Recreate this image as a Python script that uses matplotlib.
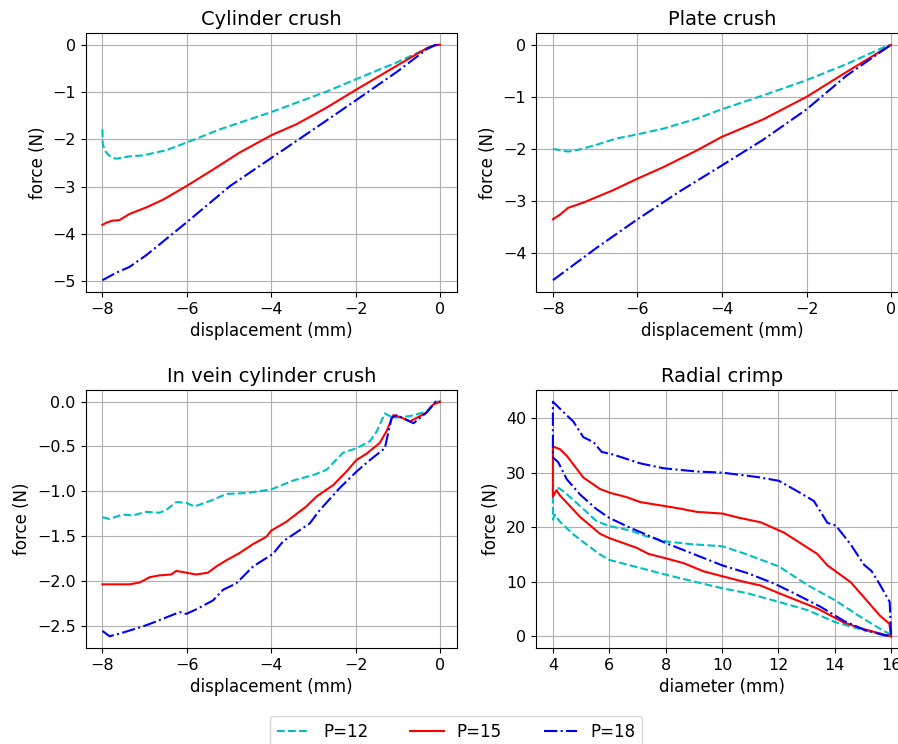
import matplotlib
matplotlib.use("Agg")
import matplotlib.pyplot as plt

# ---------------- data ----------------
labels = ["P=12", "P=15", "P=18"]
colors = ["c", "r", "b"]
styles = ["--", "-", "-."]

# Cylinder crush
cyl_x12 = [-8, -7.99, -7.91, -7.79, -7.67, -7.36, -7.04, -6.49, -6.01, -5.22, -3.99, -2.69, -1.97, -1.02, -0.15, 0]
cyl_y12 = [-1.79, -2.11, -2.28, -2.38, -2.41, -2.36, -2.34, -2.23, -2.07, -1.79, -1.42, -0.99, -0.72, -0.37, -0.01, 0]
cyl_x15 = [-8, -7.9, -7.76, -7.6, -7.36, -6.96, -6.57, -6.01, -5.38, -4.75, -3.99, -3.40, -2.69, -1.97, -1.02, -0.31, -0.12, 0]
cyl_y15 = [-3.81, -3.76, -3.72, -3.71, -3.58, -3.44, -3.28, -2.99, -2.64, -2.28, -1.91, -1.68, -1.33, -0.94, -0.44, -0.07, -0.005, 0]
cyl_x18 = [-8, -7.67, -7.36, -6.96, -6.01, -4.98, -3.99, -3.00, -1.97, -1.02, -0.31, -0.12, 0]
cyl_y18 = [-4.98, -4.82, -4.70, -4.45, -3.76, -2.99, -2.39, -1.79, -1.16, -0.57, -0.09, -0.01, 0]

# Plate crush
pl_x12 = [-8, -7.64, -7.36, -6.97, -6.50, -6.0, -5.39, -4.6, -4.01, -3.02, -2.0, -1.05, -0.18, 0]
pl_y12 = [-2.0, -2.05, -2.01, -1.92, -1.80, -1.72, -1.61, -1.42, -1.24, -0.97, -0.68, -0.37, -0.05, 0]
pl_x15 = [-8, -7.83, -7.64, -7.28, -6.57, -6.0, -5.39, -4.6, -4.01, -3.02, -2.0, -1.05, -0.34, 0]
pl_y15 = [-3.35, -3.26, -3.13, -3.03, -2.79, -2.57, -2.35, -2.03, -1.77, -1.43, -1.0, -0.52, -0.17, 0]
pl_x18 = [-8, -6.97, -6.0, -4.99, -4.01, -3.02, -2.0, -1.05, -0.34, 0]
pl_y18 = [-4.52, -3.90, -3.35, -2.81, -2.32, -1.82, -1.24, -0.59, -0.19, 0]

# In vein cylinder crush
iv_x12 = [-8, -7.83, -7.52, -7.28, -6.96, -6.65, -6.49, -6.25, -6.01, -5.82, -5.46, -5.06, -4.59, -4.0,
          -3.48, -3.01, -2.69, -2.30, -1.98, -1.66, -1.50, -1.31, -1.11, -0.71, -0.32, -0.12, 0]
iv_y12 = [-1.29, -1.31, -1.26, -1.27, -1.23, -1.24, -1.21, -1.12, -1.13, -1.17, -1.11, -1.03, -1.02, -0.98,
          -0.88, -0.82, -0.76, -0.57, -0.52, -0.44, -0.33, -0.13, -0.18, -0.16, -0.11, 0, 0]
iv_x15 = [-8, -7.75, -7.36, -7.12, -6.88, -6.65, -6.37, -6.25, -6.01, -5.78, -5.5, -5.30, -5.06, -4.75,
          -4.43, -4.12, -4.0, -3.64, -3.17, -2.93, -2.53, -2.22, -1.98, -1.74, -1.43, -1.27, -1.11,
          -0.95, -0.71, -0.32, -0.16, 0]
iv_y15 = [-2.04, -2.04, -2.04, -2.02, -1.96, -1.94, -1.93, -1.89, -1.91, -1.93, -1.91, -1.84, -1.77, -1.69,
          -1.59, -1.51, -1.44, -1.34, -1.17, -1.06, -0.93, -0.78, -0.65, -0.58, -0.46, -0.33, -0.15,
          -0.17, -0.22, -0.12, -0.03, 0]
iv_x18 = [-8, -7.83, -7.52, -7.04, -6.81, -6.49, -6.17, -6.01, -5.78, -5.38, -5.14, -4.83, -4.43, -3.96,
          -3.72, -3.09, -2.85, -2.37, -1.98, -1.66, -1.31, -1.15, -1.03, -0.63, -0.32, -0.1, 0]
iv_y18 = [-2.56, -2.62, -2.58, -2.51, -2.47, -2.41, -2.35, -2.37, -2.32, -2.22, -2.10, -2.03, -1.84, -1.70,
          -1.56, -1.36, -1.21, -0.96, -0.78, -0.65, -0.52, -0.18, -0.15, -0.24, -0.12, 0, 0]

# Radial crimp: loading (upper) and unloading (lower) branches, diameter ascending
rc_up_x12 = [4, 4.19, 4.37, 4.96, 5.55, 6.0, 6.74, 7.33, 8.0, 8.88, 10.01, 10.89, 12.02, 13.03, 14.01, 14.9, 15.73, 16.0]
rc_up_y12 = [27.5, 27.2, 26.6, 23.9, 21.1, 20.2, 19.4, 18.3, 17.4, 16.9, 16.5, 15.0, 12.8, 9.4, 6.6, 3.6, 1.0, 0.3]
rc_lo_x12 = [4, 4.07, 4.25, 4.72, 5.2, 5.67, 6.0, 6.74, 8.0, 9.11, 10.01, 10.89, 12.02, 13.03, 14.01, 15.04, 15.75, 16.0]
rc_lo_y12 = [21.4, 22.3, 21.0, 18.7, 16.8, 15.0, 14.0, 13.0, 11.3, 9.9, 8.8, 7.9, 6.3, 4.8, 2.6, 1.1, 0.3, 0.0]

rc_up_x15 = [4, 4.25, 4.49, 5.08, 5.67, 6.03, 6.62, 7.10, 7.93, 8.52, 9.11, 10.01, 10.54, 11.37, 12.2, 13.38,
             13.74, 14.57, 15.28, 15.6, 15.94, 16.0]
rc_up_y15 = [34.8, 34.3, 33.1, 29.1, 27.0, 26.3, 25.5, 24.6, 23.9, 23.4, 22.8, 22.5, 21.8, 20.9, 19.0, 15.1,
             13.0, 9.9, 5.7, 3.8, 2.3, 0.0]
rc_lo_x15 = [4, 4.13, 4.25, 4.49, 4.96, 5.67, 6.0, 6.98, 7.39, 8.0, 8.64, 9.35, 10.01, 10.77, 11.37, 12.02,
             13.38, 14.33, 15.04, 15.75, 16.0]
rc_lo_y15 = [25.6, 26.8, 25.8, 24.5, 21.9, 18.8, 18.0, 16.2, 15.1, 14.3, 13.4, 11.9, 11.0, 10.0, 9.3, 7.9,
             5.1, 2.5, 1.3, 0.3, 0.0]

rc_up_x18 = [4, 4.37, 4.72, 5.08, 5.44, 5.73, 6.15, 6.62, 7.10, 7.93, 9.11, 10.01, 11.25, 12.02, 12.67, 13.26,
             13.74, 14.04, 14.57, 15.04, 15.3, 15.6, 15.95, 16.0]
rc_up_y18 = [43.0, 41.1, 39.4, 36.5, 35.6, 33.8, 33.3, 32.5, 31.7, 30.8, 30.2, 30.0, 29.2, 28.5, 26.6, 24.8,
             20.8, 20.3, 16.8, 13.1, 12.0, 9.5, 6.3, 0.3]
rc_lo_x18 = [4, 4.19, 4.49, 4.96, 5.55, 6.0, 6.74, 7.33, 8.0, 8.88, 10.01, 10.89, 11.84, 12.67, 13.5, 14.33,
             15.04, 15.75, 16.0]
rc_lo_y18 = [32.8, 31.9, 28.8, 26.0, 23.3, 21.7, 19.9, 18.6, 17.1, 15.3, 13.0, 11.6, 9.7, 7.6, 5.4, 2.8,
             1.2, 0.2, 0.0]

# ---------------- figure ----------------
W, H = 898, 744
fig = plt.figure(figsize=(W / 100, H / 100), dpi=100)

def add_ax(l, t, r, b):
    return fig.add_axes([l / W, 1 - b / H, (r - l) / W, (b - t) / H])

ax1 = add_ax(85.5, 33, 457, 292)
ax2 = add_ax(536, 33, 908, 292)
ax3 = add_ax(85.5, 390, 457, 648)
ax4 = add_ax(536, 390, 908, 648)

TICK = 11.5
LAB = 12
TIT = 14

def style(ax, title, xlabel):
    ax.set_title(title, fontsize=TIT)
    ax.set_xlabel(xlabel, fontsize=LAB)
    ax.set_ylabel("force (N)", fontsize=LAB)
    ax.tick_params(labelsize=TICK)
    ax.grid(True)

lw = 1.5
for ax, series in [
    (ax1, [(cyl_x12, cyl_y12), (cyl_x15, cyl_y15), (cyl_x18, cyl_y18)]),
    (ax2, [(pl_x12, pl_y12), (pl_x15, pl_y15), (pl_x18, pl_y18)]),
    (ax3, [(iv_x12, iv_y12), (iv_x15, iv_y15), (iv_x18, iv_y18)]),
]:
    for (x, y), c, s, lab in zip(series, colors, styles, labels):
        ax.plot(x, y, color=c, linestyle=s, linewidth=lw, label=lab)

for (ux, uy, lx, ly), c, s, lab in zip(
    [(rc_up_x12, rc_up_y12, rc_lo_x12, rc_lo_y12),
     (rc_up_x15, rc_up_y15, rc_lo_x15, rc_lo_y15),
     (rc_up_x18, rc_up_y18, rc_lo_x18, rc_lo_y18)],
    colors, styles, labels):
    px = list(reversed(ux)) + list(lx)
    py = list(reversed(uy)) + list(ly)
    ax4.plot(px, py, color=c, linestyle=s, linewidth=lw, label=lab)

style(ax1, "Cylinder crush", "displacement (mm)")
style(ax2, "Plate crush", "displacement (mm)")
style(ax3, "In vein cylinder crush", "displacement (mm)")
style(ax4, "Radial crimp", "diameter (mm)")

ax1.set_xticks([-8, -6, -4, -2, 0])
ax2.set_xticks([-8, -6, -4, -2, 0])
ax3.set_xticks([-8, -6, -4, -2, 0])
ax4.set_xticks([4, 6, 8, 10, 12, 14, 16])
ax4.set_yticks([0, 10, 20, 30, 40])

handles, labs = ax1.get_legend_handles_labels()
fig.legend(handles, labs, loc="upper center", bbox_to_anchor=(456 / W, 1 - 708 / H),
           ncol=3, fontsize=12, columnspacing=2.5)

fig.savefig("out.png", dpi=100)
